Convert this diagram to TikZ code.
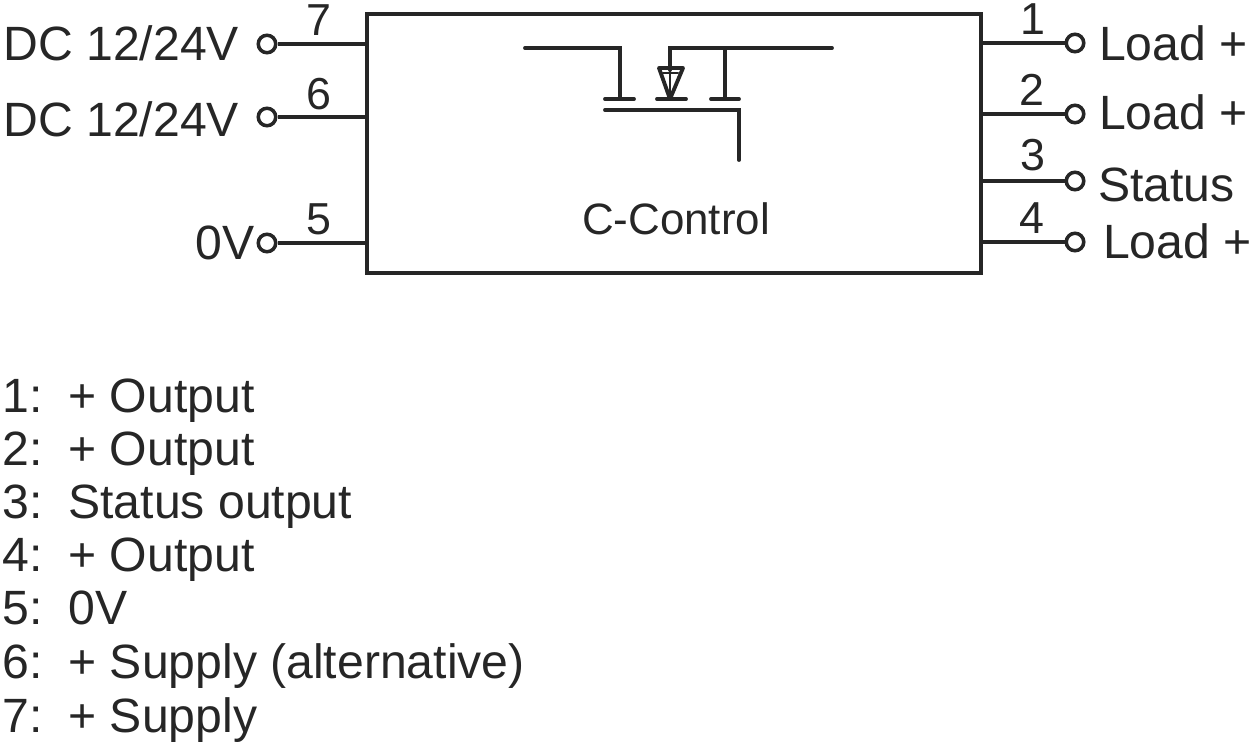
\documentclass[tikz,border=0pt]{standalone}
\usepackage{fontspec}
\setmainfont{Liberation Sans}
\tikzset{
  txt/.style={inner sep=0pt,outer sep=0pt,text=black!85,font=\fontsize{27.4}{30}\selectfont},
  num/.style={txt,anchor=base,font=\fontsize{25.5}{30}\selectfont},
  pin/.style={circle,draw=black!85,line width=2pt,fill=white,minimum size=0.35cm,inner sep=0pt},
  wire/.style={line width=2.1pt,black!85},
  fet/.style={line width=2.2pt,black!85,line cap=round}
}
\begin{document}
\begin{tikzpicture}[x=0.02cm,y=-0.02cm]
\useasboundingbox (0,0) rectangle (1250,746);
\node[draw=black!85,line width=2.1pt,minimum width=12.28cm,minimum height=5.18cm,inner sep=0pt] (box) at (674,143.5) {};
\node[pin] (p7) at (267,44) {};%left side
\node[pin] (p6) at (267,117) {};
\node[pin] (p5) at (267,243) {};
\node[pin] (p1) at (1075,43) {};%right side
\node[pin] (p2) at (1075,114) {};
\node[pin] (p3) at (1075,181) {};
\node[pin] (p4) at (1075,242) {};
\draw[wire] (p7) -- (p7 -| box.west);
\draw[wire] (p6) -- (p6 -| box.west);
\draw[wire] (p5) -- (p5 -| box.west);
\draw[wire] (p1) -- (p1 -| box.east);
\draw[wire] (p2) -- (p2 -| box.east);
\draw[wire] (p3) -- (p3 -| box.east);
\draw[wire] (p4) -- (p4 -| box.east);
\node[num] (n7) at (318.5,36) {7};
\node[num] (n6) at (318.5,110) {6};
\node[num] (n5) at (318.5,235) {5};
\node[num] (n1) at (1033,35) {1};
\node[num] (n2) at (1032,106) {2};
\node[num] (n3) at (1033,171) {3};
\node[num] (n4) at (1032,234) {4};
\node[txt,anchor=base west] (dc7) at (3.5,61) {DC 12/24V};
\node[txt,anchor=base west] (dc6) at (3.5,137) {DC 12/24V};
\node[txt,anchor=base east] (gnd) at (254.5,260) {0V};
\node[txt,anchor=base west] (l1) at (1099,61) {Load +};
\node[txt,anchor=base west] (l2) at (1099,130) {Load +};
\node[txt,anchor=base west] (st) at (1098,202) {Status};
\node[txt,anchor=base west] (l4) at (1103,259) {Load +};
\node[txt,anchor=base,font=\fontsize{25}{30}\selectfont] (ctl) at (676,235) {C-Control};
%transistor
\draw[fet] (525,48) -- (620,48) -- (620,99);
\draw[fet] (605,99) -- (634,99);
\draw[fet] (670,70) -- (670,48) -- (832,48);
\draw[fet] (725,48) -- (725,99);
\draw[fet] (657,99) -- (686,99);
\draw[fet] (711,99) -- (739,99);
\draw[fet] (605,110) -- (739,110) -- (739,160);
\draw[fet,line join=round] (659,68) -- (683,68) -- (670,99) -- cycle;
\draw[fet,line width=1.4pt] (663,73) -- (678,73);
\draw[fet,line width=1.4pt] (670,68) -- (670,99);
%legend
\node[txt,anchor=base west] (k1) at (3,412) {1:};
\node[txt,anchor=base west] (k2) at (3,465) {2:};
\node[txt,anchor=base west] (k3) at (3,518) {3:};
\node[txt,anchor=base west] (k4) at (3,571) {4:};
\node[txt,anchor=base west] (k5) at (3,624) {5:};
\node[txt,anchor=base west] (k6) at (3,678) {6:};
\node[txt,anchor=base west] (k7) at (3,732) {7:};
\node[txt,anchor=base west] (v1) at (68.5,412) {+ Output};
\node[txt,anchor=base west] (v2) at (68.5,465) {+ Output};
\node[txt,anchor=base west] (v3) at (68.5,518) {Status output};
\node[txt,anchor=base west] (v4) at (68.5,571) {+ Output};
\node[txt,anchor=base west] (v5) at (68.5,624) {0V};
\node[txt,anchor=base west] (v6) at (68.5,678) {+ Supply (alternative)};
\node[txt,anchor=base west] (v7) at (68.5,732) {+ Supply};
\end{tikzpicture}
\end{document}
